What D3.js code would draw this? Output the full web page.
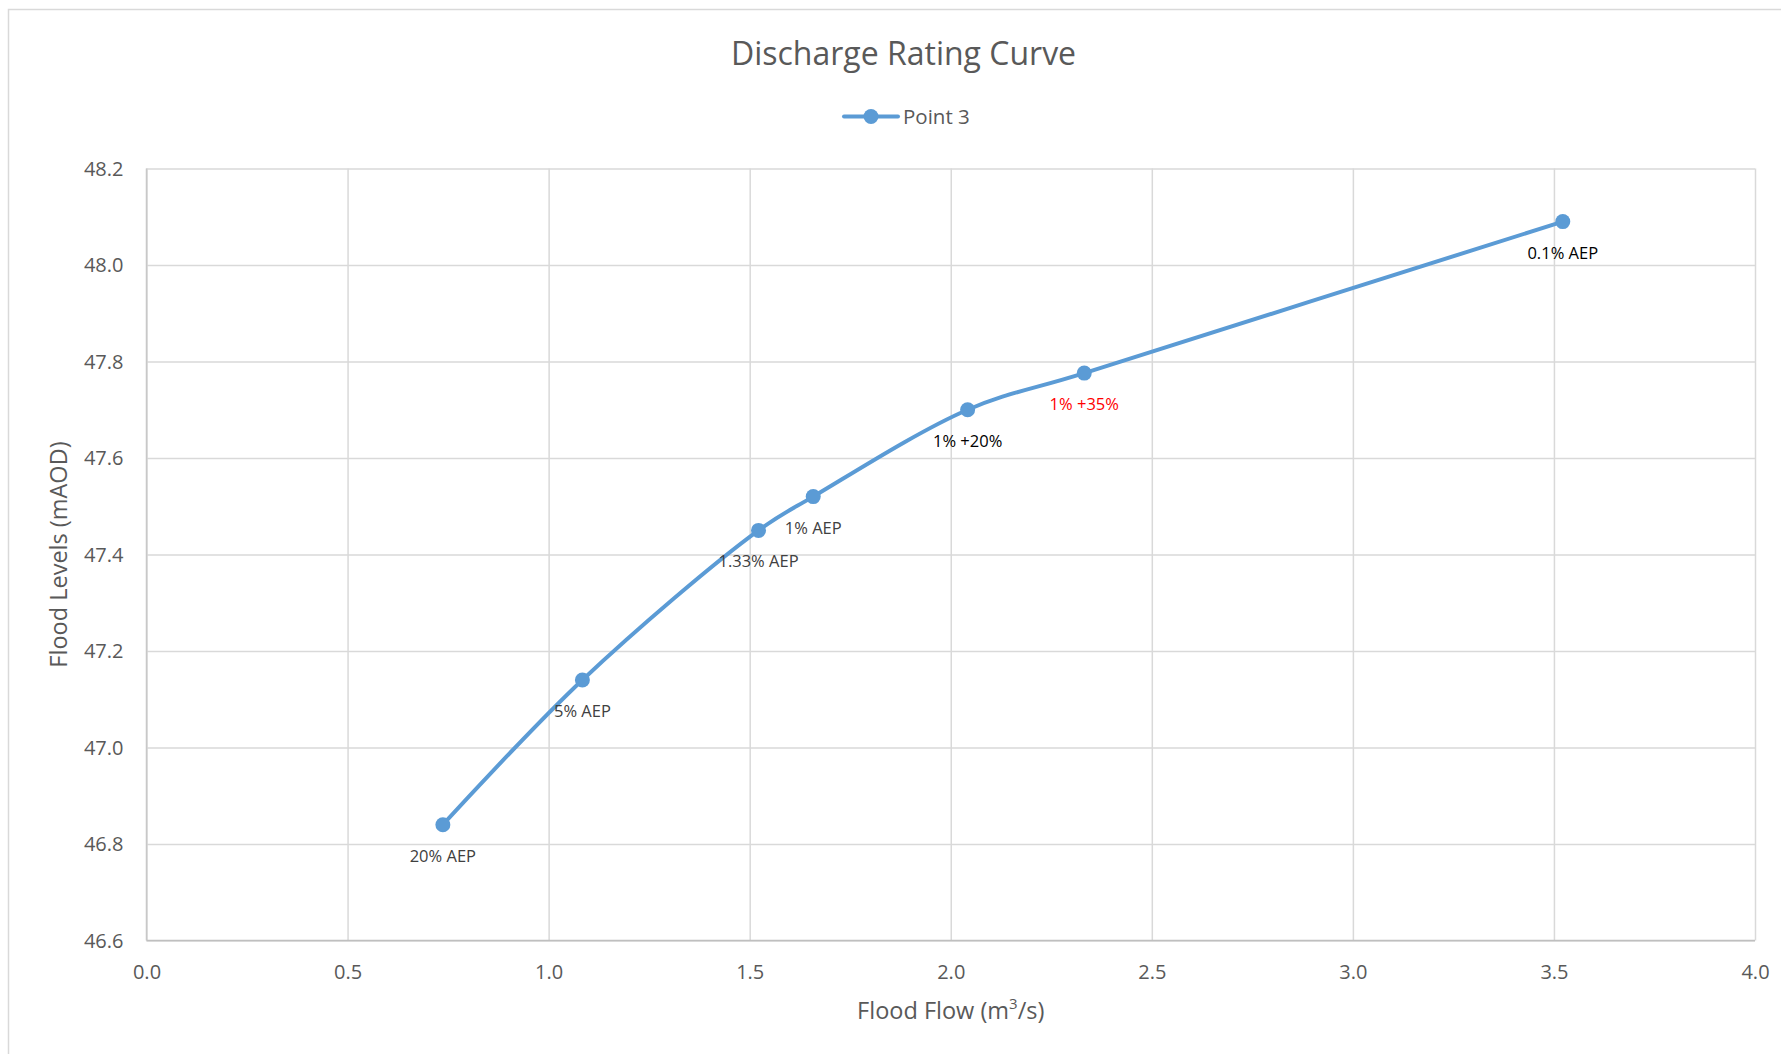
<!DOCTYPE html>
<html>
<head>
<meta charset="utf-8">
<script src="https://cdn.jsdelivr.net/npm/d3@7"></script>
<style>
  html, body { margin: 0; padding: 0; background: #fff; }
  svg { display: block; }
  text { font-family: "Open Sans", "Noto Sans", sans-serif; }
</style>
</head>
<body>
<svg id="chart" width="1781" height="1054"></svg>
<script>
// ---- Data ----
const seriesName = "Point 3";
const flows = [0.737, 1.084, 1.522, 1.658, 2.042, 2.332, 3.522];
const levels = [46.84, 47.14, 47.45, 47.52, 47.70, 47.776, 48.09];
const pointLabels = ["20% AEP", "5% AEP", "1.33% AEP", "1% AEP", "1% +20%", "1% +35%", "0.1% AEP"];
const xTicks = [0.0, 0.5, 1.0, 1.5, 2.0, 2.5, 3.0, 3.5, 4.0];
const yTicks = [46.6, 46.8, 47.0, 47.2, 47.4, 47.6, 47.8, 48.0, 48.2];

(function () {
// ---- Styles ----
const blue = "#5B9BD5";
const grid = "#D9D9D9";
const textGray = "#595959";
const labelColour = {"1% +20%": "#000000", "0.1% AEP": "#000000", "1% +35%": "#FF0000"};
const defaultLabelColour = "#404040";

const svg = d3.select("#chart");
const pLeft = 146.5, pRight = 1755, pTop = 168.5, pBottom = 940.5;

// outer chart border
svg.append("rect")
  .attr("x", 8.5).attr("y", 9.5)
  .attr("width", 1900).attr("height", 1200)
  .attr("fill", "#fff").attr("stroke", grid).attr("stroke-width", 1.5);

const x = d3.scaleLinear().domain([0, 4]).range([pLeft, pRight]);
const y = d3.scaleLinear().domain([46.6, 48.2]).range([pBottom, pTop]);

// gridlines + tick labels
const gx = svg.append("g").attr("transform", `translate(0,${pBottom})`)
  .call(d3.axisBottom(x).tickValues(xTicks).tickSize(-(pBottom - pTop)).tickFormat(d3.format(".1f")));
gx.select(".domain").remove();
gx.selectAll(".tick line").attr("stroke", grid).attr("stroke-width", 1.5);
gx.selectAll(".tick text")
  .attr("y", 38.5).attr("dy", null)
  .attr("fill", textGray).style("font-size", "20px").style("font-family", '"Open Sans", sans-serif');

const gy = svg.append("g").attr("transform", `translate(${pLeft},0)`)
  .call(d3.axisLeft(y).tickValues(yTicks).tickSize(-(pRight - pLeft)).tickFormat(d3.format(".1f")));
gy.select(".domain").remove();
gy.selectAll(".tick line").attr("stroke", grid).attr("stroke-width", 1.5);
gy.selectAll(".tick text")
  .attr("x", -23).attr("dy", "0.33em")
  .attr("fill", textGray).style("font-size", "20px").style("font-family", '"Open Sans", sans-serif');

// axis lines
svg.append("line").attr("x1", pLeft).attr("x2", pRight).attr("y1", pBottom).attr("y2", pBottom)
  .attr("stroke", "#BFBFBF").attr("stroke-width", 1.5);
svg.append("line").attr("x1", pLeft).attr("x2", pLeft).attr("y1", pTop).attr("y2", pBottom)
  .attr("stroke", "#C8C8C8").attr("stroke-width", 1.5);

// series
const pts = flows.map((f, i) => ({f, l: levels[i], label: pointLabels[i]}));
const line = d3.line().x(d => x(d.f)).y(d => y(d.l)).curve(d3.curveCatmullRom.alpha(0.5));
svg.append("path").datum(pts)
  .attr("d", line).attr("fill", "none")
  .attr("stroke", blue).attr("stroke-width", 4).attr("stroke-linejoin", "round").attr("stroke-linecap", "round");

svg.selectAll("circle.pt").data(pts).enter().append("circle")
  .attr("class", "pt")
  .attr("cx", d => x(d.f)).attr("cy", d => y(d.l)).attr("r", 7.5)
  .attr("fill", blue);

svg.selectAll("text.lbl").data(pts).enter().append("text")
  .attr("class", "lbl")
  .attr("x", d => x(d.f)).attr("y", d => y(d.l) + 37)
  .attr("text-anchor", "middle")
  .attr("fill", d => labelColour[d.label] || defaultLabelColour)
  .style("font-size", "16.5px")
  .text(d => d.label);

// title
svg.append("text").attr("x", 903.5).attr("y", 64.5).attr("text-anchor", "middle")
  .attr("fill", textGray).style("font-size", "32px").text("Discharge Rating Curve");

// legend
svg.append("line").attr("x1", 844).attr("x2", 898).attr("y1", 116.5).attr("y2", 116.5)
  .attr("stroke", blue).attr("stroke-width", 4).attr("stroke-linecap", "round");
svg.append("circle").attr("cx", 871).attr("cy", 116.5).attr("r", 7.5).attr("fill", blue);
svg.append("text").attr("x", 903).attr("y", 124).attr("fill", textGray)
  .style("font-size", "20.5px").text(seriesName);

// axis titles
const xt = svg.append("text").attr("x", (pLeft + pRight) / 2).attr("y", 1019).attr("text-anchor", "middle")
  .attr("fill", textGray).style("font-size", "23.5px");
xt.append("tspan").text("Flood Flow (m");
xt.append("tspan").attr("baseline-shift", "super").style("font-size", "15px").text("3");
xt.append("tspan").text("/s)");

svg.append("text")
  .attr("transform", `translate(67,${(pTop + pBottom) / 2}) rotate(-90)`)
  .attr("text-anchor", "middle").attr("fill", textGray).style("font-size", "23.5px")
  .text("Flood Levels (mAOD)");
})();
</script>
</body>
</html>
